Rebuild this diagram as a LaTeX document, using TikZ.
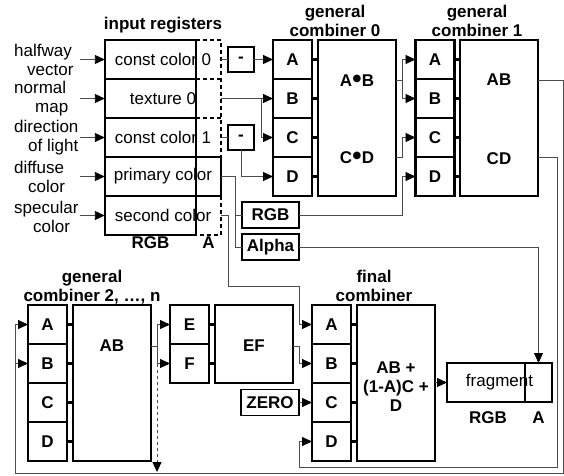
\documentclass[tikz,border=0pt]{standalone}
\usepackage{fontspec}
\setmainfont{Liberation Sans}
\newfontfamily\dotfont{DejaVu Sans}
\newcommand{\bigdot}{\hspace{0.5pt}\raisebox{5pt}{\dotfont\fontsize{10}{10}\selectfont ●}\hspace{0.5pt}}
\usetikzlibrary{arrows.meta}
\begin{document}
\begin{tikzpicture}[x=1pt,y=-1pt,
  conn/.style={draw=black!70, line width=0.9pt},
  tip/.style={-{Triangle[length=10pt,width=9pt,color=black]}},
  thickline/.style={draw=black, line width=2.2pt},
  dashline/.style={draw=black, line width=1.1pt, dash pattern=on 4pt off 3pt},
  stub/.style={draw=black, line width=3pt},
  title/.style={font=\fontsize{17}{18.5}\selectfont\bfseries, align=center, inner sep=0},
  lab/.style={anchor=west, align=left, inner sep=0, font=\fontsize{17}{19}\selectfont},
  reg/.style={minimum width=116pt, minimum height=39pt, inner sep=0, font=\fontsize{17}{19}\selectfont},
  ibox/.style={draw, line width=2.2pt, minimum width=39pt, minimum height=39pt, inner sep=0, outer sep=0, font=\fontsize{17}{19}\selectfont\bfseries},
  mbox/.style={draw, line width=2.2pt, minimum width=78pt, minimum height=156pt, inner sep=0, outer sep=0},
  sbox/.style={draw, line width=1.2pt, inner sep=0, outer sep=0, font=\fontsize{17}{19}\selectfont\bfseries},
  btext/.style={inner sep=0, font=\fontsize{17}{19}\selectfont\bfseries, align=center}
]
\useasboundingbox (0,0) rectangle (564,475);

% titles
\node[title] (tin) at (163,25) {input registers};
\node[title] (t0) at (335,21) {general\\combiner 0};
\node[title] (t1) at (477,21) {general\\combiner 1};
\node[title] (t2) at (92,287) {general\\combiner 2, …, n};
\node[title] (tf) at (374,286) {final\\combiner};

% input registers
\node[reg] (r0) at (163,59.5) {const color 0};
\node[reg] (r1) at (163,98.5) {texture 0};
\node[reg] (r2) at (163,137.5) {const color 1};
\node[reg] (r3) at (163,176.5) {primary color};
\node[reg] (r4) at (163,215.5) {second color};
\draw[thickline] (105,40) rectangle (196,235);
\draw[thickline] (105,79) -- (196,79) (105,118) -- (196,118) (105,157) -- (196,157) (105,196) -- (196,196);
\draw[thickline] (r3.north west) rectangle (r3.south east);
\draw[dashline] (196,40) -- (221,40) -- (221,157);
\draw[dashline] (196,79) -- (221,79) (196,118) -- (221,118);
\draw[dashline] (221,196) -- (221,235) -- (196,235);
\node[btext] (rgbl) at (150.5,243) {RGB};
\node[btext] (al) at (208.5,243) {A};

% left labels
\node[lab] (l0) at (14,59.5) {halfway\\\hspace*{13pt}vector};
\node[lab] (l1) at (14,99) {normal\\\hspace*{21pt}map};
\node[lab] (l2) at (14,137.5) {direction\\\hspace*{14pt}of light};
\node[lab] (l3) at (14,177) {diffuse\\\hspace*{14pt}color};
\node[lab] (l4) at (14,217) {specular\\\hspace*{19pt}color};
\draw[conn,tip] ([xshift=-25pt]r0.west) -- (r0.west);
\draw[conn,tip] ([xshift=-25pt]r1.west) -- (r1.west);
\draw[conn,tip] ([xshift=-25pt]r2.west) -- (r2.west);
\draw[conn,tip] ([xshift=-25pt]r3.west) -- (r3.west);
\draw[conn,tip] ([xshift=-25pt]r4.west) -- (r4.west);

% minus boxes
\node[sbox, minimum width=26pt, minimum height=25pt] (m0) at (241,59.5) {-};
\node[sbox, minimum width=26pt, minimum height=25pt] (m1) at (241,137.5) {-};

% general combiner 0
\node[ibox] (g0a) at (292.5,59.5) {A};
\node[ibox] (g0b) at (292.5,98.5) {B};
\node[ibox] (g0c) at (292.5,137.5) {C};
\node[ibox] (g0d) at (292.5,176.5) {D};
\node[mbox] (g0m) at (357,118) {};
\node[btext] (g0ab) at (357,81) {A\bigdot B};
\node[btext] (g0cd) at (357,158) {C\bigdot D};
\foreach \n in {g0a,g0b,g0c,g0d} \draw[stub] (\n.east) -- (\n.east -| g0m.west);

% general combiner 1
\node[ibox] (g1a) at (435,59.5) {A};
\node[ibox] (g1b) at (435,98.5) {B};
\node[ibox] (g1c) at (435,137.5) {C};
\node[ibox] (g1d) at (435,176.5) {D};
\node[mbox] (g1m) at (499,118) {};
\node[btext] (g1ab) at (499,80) {AB};
\node[btext] (g1cd) at (499,159) {CD};
\foreach \n in {g1a,g1b,g1c,g1d} \draw[stub] (\n.east) -- (\n.east -| g1m.west);

% RGB / Alpha boxes
\node[sbox, minimum width=57pt, minimum height=26pt] (rgb) at (270.5,215) {RGB};
\node[sbox, minimum width=57pt, minimum height=26pt] (alpha) at (270.5,247) {Alpha};

% general combiner 2..n
\node[ibox] (g2a) at (47.5,324.5) {A};
\node[ibox] (g2b) at (47.5,363.5) {B};
\node[ibox] (g2c) at (47.5,402.5) {C};
\node[ibox] (g2d) at (47.5,441.5) {D};
\node[mbox] (g2m) at (112,383) {};
\node[btext] (g2ab) at (112,346) {AB};
\foreach \n in {g2a,g2b,g2c,g2d} \draw[stub] (\n.east) -- (\n.east -| g2m.west);

% EF
\node[ibox] (gea) at (189.5,324.5) {E};
\node[ibox] (geb) at (189.5,363.5) {F};
\node[mbox, minimum height=78pt] (gem) at (254,344) {};
\node[btext] (geef) at (254,346) {EF};
\foreach \n in {gea,geb} \draw[stub] (\n.east) -- (\n.east -| gem.west);

% ZERO
\node[sbox, minimum width=58pt, minimum height=26pt] (zero) at (270,402.5) {ZERO};

% final combiner
\node[ibox] (fa) at (331.5,324.5) {A};
\node[ibox] (fb) at (331.5,363.5) {B};
\node[ibox] (fc) at (331.5,402.5) {C};
\node[ibox] (fd) at (331.5,441.5) {D};
\node[mbox] (fm) at (396,383) {};
\node[btext] (fmt) at (396,387) {AB +\\(1-A)C +\\D};
\foreach \n in {fa,fb,fc,fd} \draw[stub] (\n.east) -- (\n.east -| fm.west);

% fragment
\node[draw, line width=2.2pt, minimum width=105pt, minimum height=39pt, inner sep=0, outer sep=0, font=\fontsize{17}{19}\selectfont] (frag) at (499.5,382.5) {fragment};
\draw[thickline] ([xshift=25.5pt]frag.north) -- ([xshift=25.5pt]frag.south);
\node[btext] (frgb) at (488,418) {RGB};
\node[btext] (fal) at (538.5,418) {A};

% coordinates
\coordinate (j0) at (402,80);
\coordinate (j1) at (402,157);
\coordinate (j2) at (402,215);
\coordinate (jt) at (261,98.5);
\coordinate (p1) at (235,176.5);
\coordinate (s1) at (228,215.5);
\coordinate (s2) at (228,286);
\coordinate (s3) at (299,286);
\coordinate (a1) at (538.5,247);
\coordinate (c1) at (563,80);
\coordinate (c2) at (563,473);
\coordinate (c3) at (15,473);
\coordinate (c4) at (557,157);
\coordinate (c5) at (557,467);
\coordinate (c6) at (299,467);
\coordinate (e1) at (299,346);
\coordinate (d1) at (157,346);
\coordinate (d2) at (157,472);

% connectors: registers -> combiner 0
\draw[conn] (r0.east) -- (m0.west);
\draw[conn,tip] (m0.east) -- (g0a.west);
\draw[conn,tip] (r1.east) -- (g0b.west);
\draw[conn,tip] (jt) |- (g0c.west);
\draw[conn] (r2.east) -- (m1.west);
\draw[conn,tip] (m1.south) |- (g0d.west);

% primary color
\draw[conn] (r3.east) -- (p1) |- (alpha.west);
\draw[conn] (p1 |- rgb) -- (rgb.west);
% second color
\draw[conn,tip] (r4.east) -- (s1) -- (s2) -- (s3) |- (fa.west);

% combiner 0 -> combiner 1
\draw[conn,tip] (g0m.east |- j0) -- (j0) |- (g1a.west);
\draw[conn,tip] (j0) |- (g1b.west);
\draw[conn,tip] (g0m.east |- j1) -- (j1) |- (g1c.west);
\draw[conn,tip] (rgb.east) -- (j2) |- (g1d.west);

% alpha -> fragment A
\draw[conn,tip] (alpha.east) -- (a1) -- (a1 |- frag.north);

% combiner 1 outputs
\draw[conn,tip] (g1ab -| g1m.east) -- (c1) -- (c2) -- (c3) |- (g2a.west);
\draw[conn,tip] (c3) |- (g2b.west);
\draw[conn,tip] (g1m.east |- c4) -- (c4) -- (c5) -- (c6) |- (fd.west);

% combiner 2 outputs
\draw[conn,tip] (g2ab -| g2m.east) -- (d1) |- (gea.west);
\draw[conn,tip] (d1) |- (geb.west);
\draw[conn,tip,dashed] (d1) -- (d2);

% EF and zero -> final
\draw[conn,tip] (geef -| gem.east) -- (e1) |- (fb.west);
\draw[conn,tip] (zero.east) -- (fc.west);
\draw[conn,tip] (fm.east |- frag) -- (frag.west);
\end{tikzpicture}
\end{document}
